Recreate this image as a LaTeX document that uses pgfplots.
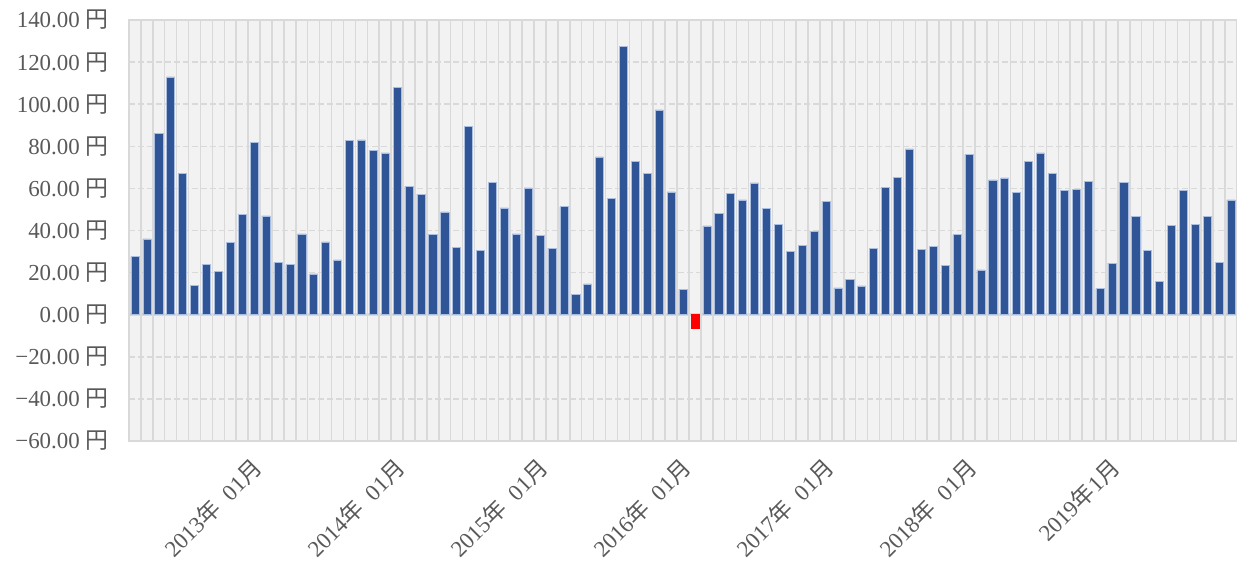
\documentclass[border=0pt]{standalone}
\usepackage{fontspec}
\setmainfont{Liberation Serif}
\newfontfamily\cjk{Noto Sans CJK JP}
\usepackage{pgfplots}
\usepackage{pgfplotstable}
\pgfplotsset{compat=1.18}
\definecolor{barblue}{RGB}{47,85,151}
\definecolor{baredge}{RGB}{170,190,225}
\definecolor{gridgray}{RGB}{217,217,217}
\definecolor{bggray}{RGB}{242,242,242}
\definecolor{txtgray}{RGB}{89,89,89}
\newcommand\yen{{\cjk 円}}
\newcommand\nen{{\cjk 年}}
\newcommand\tsuki{{\cjk 月}}

% monthly values, month 48 is the negative one (separate series)
\pgfplotstableread{
x y
1 27.6
2 36.0
3 86.2
4 113.0
5 67.1
6 14.0
7 24.0
8 20.7
9 34.3
10 47.5
11 81.9
12 47.0
13 24.8
14 23.8
15 38.4
16 19.4
17 34.6
18 26.0
19 82.7
20 83.0
21 78.0
22 76.9
23 108.1
24 61.1
25 57.3
26 38.3
27 48.8
28 31.9
29 89.4
30 30.7
31 63.0
32 50.8
33 38.4
34 60.2
35 37.6
36 31.6
37 51.4
38 9.5
39 14.6
40 75.0
41 55.2
42 127.5
43 73.0
44 67.0
45 97.3
46 58.4
47 12.1
49 42.2
50 48.0
51 57.6
52 54.6
53 62.6
54 50.5
55 42.9
56 30.2
57 32.9
58 39.7
59 53.8
60 12.7
61 16.7
62 13.7
63 31.6
64 60.5
65 65.4
66 78.8
67 31.1
68 32.6
69 23.5
70 38.0
71 76.2
72 21.3
73 64.1
74 65.0
75 58.1
76 73.0
77 76.9
78 67.3
79 58.9
80 59.5
81 63.2
82 12.4
83 24.5
84 62.9
85 46.7
86 30.7
87 16.0
88 42.6
89 59.0
90 42.9
91 46.7
92 24.9
93 54.6
}\monthly

\begin{document}
\begin{tikzpicture}
\begin{axis}[
    at={(0,0)}, anchor=south west,
    scale only axis,
    width=1108bp, height=421bp,
    ybar, bar width=0.68, bar shift=0pt,
    xmin=0.5, xmax=93.5,
    ymin=-60, ymax=140,
    enlargelimits=false,
    axis background/.style={fill=bggray},
    axis line style={gridgray, line width=1.2bp},
    major tick length=0pt, minor tick length=0pt,
    ytick={-60,-40,...,140},
    yticklabels={−60.00\ \yen, −40.00\ \yen, −20.00\ \yen, 0.00\ \yen, 20.00\ \yen, 40.00\ \yen, 60.00\ \yen, 80.00\ \yen, 100.00\ \yen, 120.00\ \yen, 140.00\ \yen},
    yticklabel style={font=\fontsize{23}{26}\selectfont, text=txtgray, anchor=east, xshift=-17bp},
    xtick={12,24,...,84},
    xticklabels={2013\nen\ \ 01\tsuki, 2014\nen\ \ 01\tsuki, 2015\nen\ \ 01\tsuki, 2016\nen\ \ 01\tsuki, 2017\nen\ \ 01\tsuki, 2018\nen\ \ 01\tsuki, 2019\nen 1\tsuki},
    xticklabel style={font=\fontsize{23}{26}\selectfont, text=txtgray, yshift=-20bp, xshift=-6bp, rotate=45, anchor=east},
    minor xtick={0.5,1.5,...,93.5},
    xminorgrids, ymajorgrids,
    minor grid style={gridgray, line width=1.5bp},
    major grid style={gridgray, line width=1.5bp, dash pattern=on 6bp off 3bp},
    extra y ticks={0}, extra y tick labels={},
    extra y tick style={grid=major, major grid style={solid, gridgray, line width=3.5bp}},
  ]
\addplot[fill=barblue, draw=baredge, line width=0.5bp] table[x=x, y=y] {\monthly};
\addplot[fill=red, draw=red, line width=0.5bp] coordinates {(48,-6.5)};
\end{axis}
\pgfresetboundingbox
\path[use as bounding box] (-129bp,-121bp) rectangle (1108bp,441bp);
\end{tikzpicture}
\end{document}
